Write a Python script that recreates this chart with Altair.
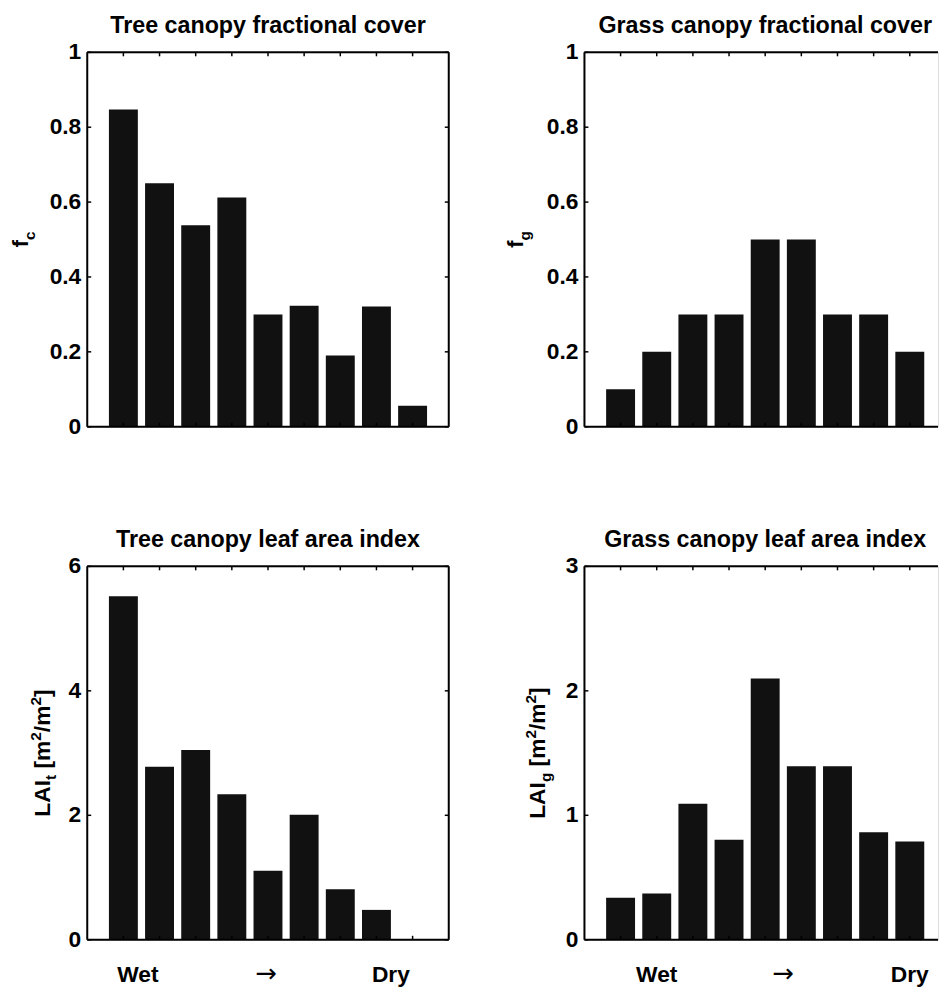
import altair as alt
import pandas as pd

# ---------------- data ----------------
positions = [1, 2, 3, 4, 5, 6, 7, 8, 9]
tree_fc = [0.847, 0.650, 0.538, 0.612, 0.300, 0.323, 0.190, 0.321, 0.056]
grass_fc = [0.1, 0.2, 0.3, 0.3, 0.5, 0.5, 0.3, 0.3, 0.2]
tree_lai = [5.52, 2.78, 3.05, 2.34, 1.11, 2.01, 0.81, 0.48, 0.0]
grass_lai = [0.337, 0.371, 1.092, 0.803, 2.10, 1.394, 1.394, 0.864, 0.79]
fc_ticks = [0, 0.2, 0.4, 0.6, 0.8, 1]
lai_t_ticks = [0, 2, 4, 6]
lai_g_ticks = [0, 1, 2, 3]
x_labels = ["Wet", "→", "Dry"]
x_label_pos_left = [1.4, 4.95, 8.4]
x_label_pos_right = [2.0, 5.5, 9.0]
titles = ["Tree canopy fractional cover", "Grass canopy fractional cover",
          "Tree canopy leaf area index", "Grass canopy leaf area index"]

# ---------------- style ----------------
FONT = "Liberation Sans"
FS = 23
TFS = 23.5
SUB = 15.5
BAR = "#111111"
W_FULL = 365.0
W_RIGHT = 357.0
H_TOP = 378
H_BOT = 377
UNIT = W_FULL / 10.0

# Helvetica-Bold advance widths (per 1000 em)
HW = {"L": 611, "A": 722, "I": 278, "t": 333, " ": 278, "[": 333, "m": 889,
      "2": 556, "/": 278, "]": 333, "f": 333, "c": 556, "g": 611}


def tw(s, size):
    return sum(HW.get(ch, 556) for ch in s) * size / 1000.0


one = pd.DataFrame({"a": [0]})


def ylabel_layers(segments, base_x, height):
    total = sum(tw(s, sz) for s, sz, _ in segments)
    y = height / 2.0 + total / 2.0
    layers = []
    for s, sz, shift in segments:
        lead = len(s) - len(s.lstrip(" "))
        ys = y - tw(" " * lead, sz)
        layers.append(
            alt.Chart(one).mark_text(
                text=s.strip(), angle=270, align="left", baseline="alphabetic",
                font=FONT, fontSize=sz, fontWeight="bold", color="black"
            ).encode(x=alt.value(base_x + shift), y=alt.value(ys))
        )
        y -= tw(s, sz)
    return layers


def panel(title, values, ymax, yticks, segments, base_x, xlab_pos, width, height,
          right_border, anchor=False):
    xmax = width / UNIT
    xs = alt.Scale(domain=[0, xmax], nice=False, zero=False)
    ys = alt.Scale(domain=[0, ymax], nice=False, zero=False)
    df = pd.DataFrame({"pos": positions, "val": values})

    bars = alt.Chart(df).transform_calculate(
        x0="datum.pos - 0.4", x1="datum.pos + 0.4"
    ).mark_bar(color=BAR).encode(
        x=alt.X("x0:Q", scale=xs, axis=None),
        x2="x1:Q",
        y=alt.Y("val:Q", scale=ys, axis=None),
        y2=alt.datum(0),
    )

    tdf = pd.DataFrame({"pos": positions})
    top_ticks = alt.Chart(tdf).mark_rule(color="black", strokeWidth=1.5).encode(
        x=alt.X("pos:Q", scale=xs, axis=None), y=alt.value(0), y2=alt.value(4))
    bot_ticks = alt.Chart(tdf).mark_rule(color="black", strokeWidth=1.5).encode(
        x=alt.X("pos:Q", scale=xs, axis=None), y=alt.value(height - 4), y2=alt.value(height))

    ydf = pd.DataFrame({"tick": yticks, "lab": [f"{v:g}" for v in yticks]})
    left_ticks = alt.Chart(ydf).mark_rule(color="black", strokeWidth=1.5).encode(
        y=alt.Y("tick:Q", scale=ys, axis=None), x=alt.value(0), x2=alt.value(4))
    tick_labels = alt.Chart(ydf).mark_text(
        align="right", baseline="middle", font=FONT, fontSize=FS, fontWeight="bold",
        color="black").encode(y=alt.Y("tick:Q", scale=ys, axis=None), x=alt.value(-6),
                              text="lab:N")

    top_border = alt.Chart(one).mark_rule(color="black", strokeWidth=2).encode(
        x=alt.value(0), x2=alt.value(width), y=alt.value(0))
    bottom_border = alt.Chart(one).mark_rule(color="black", strokeWidth=2).encode(
        x=alt.value(0), x2=alt.value(width), y=alt.value(height))
    left_border = alt.Chart(one).mark_rule(color="black", strokeWidth=2).encode(
        x=alt.value(0), y=alt.value(0), y2=alt.value(height))

    layers = [bars, top_ticks, bot_ticks, left_ticks, tick_labels,
              top_border, bottom_border, left_border]

    if right_border:
        layers.append(alt.Chart(ydf).mark_rule(color="black", strokeWidth=1.5).encode(
            y=alt.Y("tick:Q", scale=ys, axis=None), x=alt.value(width - 4), x2=alt.value(width)))
        layers.append(alt.Chart(one).mark_rule(color="black", strokeWidth=2).encode(
            x=alt.value(width), y=alt.value(0), y2=alt.value(height)))

    layers.append(alt.Chart(one).mark_text(
        text=title, align="center", baseline="alphabetic", font=FONT, fontSize=TFS,
        fontWeight="bold", color="black").encode(x=alt.value(W_FULL / 2.0), y=alt.value(-19.5)))

    layers += ylabel_layers(segments, base_x, height)

    if xlab_pos is not None:
        ldf = pd.DataFrame({"pos": xlab_pos, "label": x_labels})
        words = alt.Chart(ldf).transform_filter("datum.label != '→'").mark_text(
            align="center", baseline="alphabetic", font=FONT, fontSize=FS, fontWeight="bold",
            color="black").encode(x=alt.X("pos:Q", scale=xs, axis=None), y=alt.value(height + 43),
                                  text="label:N")
        arrow = alt.Chart(ldf).transform_filter("datum.label == '→'").mark_text(
            align="center", baseline="alphabetic", font="DejaVu Sans", fontSize=26,
            fontWeight="normal", color="black").encode(
            x=alt.X("pos:Q", scale=xs, axis=None), y=alt.value(height + 43), text="label:N")
        layers += [words, arrow]

    if anchor:
        # invisible point fixing the top-left corner of the whole figure
        layers.append(alt.Chart(one).mark_rule(color="white", strokeOpacity=0, strokeWidth=1).encode(
            x=alt.value(-79.5), x2=alt.value(-79.5), y=alt.value(-39.2), y2=alt.value(-38.2)))

    return alt.layer(*layers).properties(width=width, height=height)


tl = panel(titles[0], tree_fc, 1, fc_ticks, [("f", FS, 0), ("c", SUB, 7)], -60, None,
           W_FULL, H_TOP, True, anchor=True)
tr = panel(titles[1], grass_fc, 1, fc_ticks, [("f", FS, 0), ("g", SUB, 7)], -62, None,
           W_RIGHT, H_TOP, False)
bl = panel(titles[2], tree_lai, 6, lai_t_ticks,
           [("LAI", FS, 0), ("t", SUB, 6), (" [m", FS, 0), ("2", SUB, -9), ("/m", FS, 0),
            ("2", SUB, -9), ("]", FS, 0)], -38, x_label_pos_left, W_FULL, H_BOT, True)
br = panel(titles[3], grass_lai, 3, lai_g_ticks,
           [("LAI", FS, 0), ("g", SUB, 6), (" [m", FS, 0), ("2", SUB, -9), ("/m", FS, 0),
            ("2", SUB, -9), ("]", FS, 0)], -40, x_label_pos_right, W_RIGHT, H_BOT, False)

chart = alt.concat(tl, tr, bl, br, columns=2, spacing={"row": 141, "column": 137},
                   bounds="flush").properties(
    padding={"left": 0, "top": 0, "right": 0, "bottom": 0}
).configure_view(stroke=None).configure(background="white")

chart.save("out.html", embed_options={"renderer": "svg", "actions": False})
